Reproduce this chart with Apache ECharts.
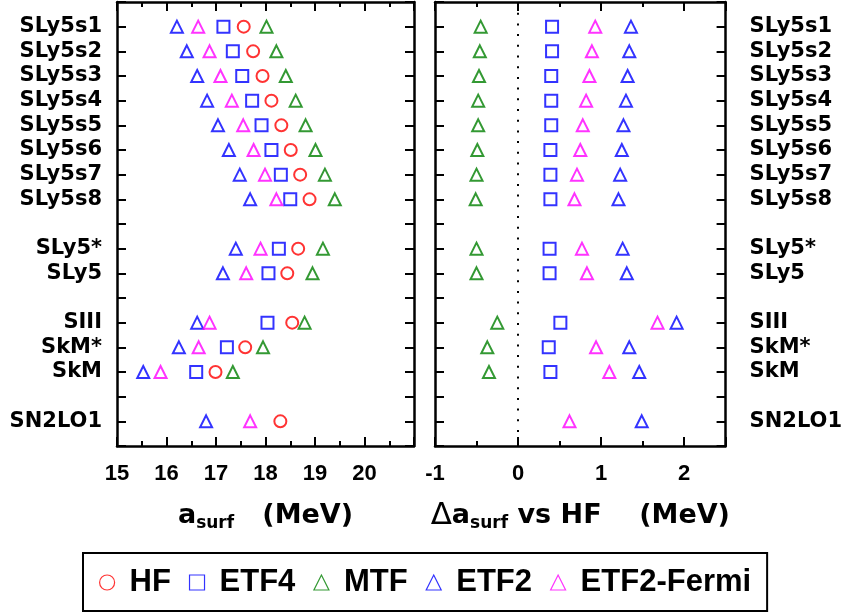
<!DOCTYPE html>
<html>
<head>
<meta charset="utf-8">
<script src="https://cdn.jsdelivr.net/npm/echarts@6/dist/echarts.min.js"></script>
<style>
  html, body { margin: 0; padding: 0; background: #fff; }
  #chart { width: 845px; height: 614px; }
</style>
</head>
<body>
<div id="chart"></div>
<script>
// rows (top to bottom), with empty slots between the groups
const rowNames = ['SLy5s1', 'SLy5s2', 'SLy5s3', 'SLy5s4', 'SLy5s5', 'SLy5s6', 'SLy5s7', 'SLy5s8',
  'SLy5*', 'SLy5', 'SIII', 'SkM*', 'SkM', 'SN2LO1']
const rowPos = [1, 2, 3, 4, 5, 6, 7, 8, 10, 11, 13, 14, 15, 17]

// left panel: a_surf (MeV)
const hf = [17.56, 17.75, 17.94, 18.12, 18.32, 18.51, 18.70, 18.89, 18.66, 18.44, 18.54, 17.59, 16.99, 18.30]
const etf4 = [17.15, 17.34, 17.53, 17.73, 17.92, 18.12, 18.31, 18.50, 18.27, 18.06, 18.04, 17.22, 16.60, null]
const mtf = [18.02, 18.22, 18.41, 18.61, 18.81, 19.01, 19.20, 19.40, 19.16, 18.95, 18.79, 17.95, 17.34, null]
const etf2 = [16.21, 16.41, 16.62, 16.82, 17.04, 17.26, 17.48, 17.69, 17.40, 17.14, 16.62, 16.25, 15.53, 16.80]
const etf2Fermi = [16.64, 16.87, 17.09, 17.32, 17.55, 17.76, 17.99, 18.22, 17.90, 17.61, 16.87, 16.65, 15.88, 17.69]

// right panel: delta a_surf vs HF (MeV)
const dEtf4 = [0.41, 0.41, 0.40, 0.40, 0.40, 0.39, 0.39, 0.39, 0.38, 0.38, 0.51, 0.37, 0.39, null]
const dMtf = [-0.45, -0.46, -0.47, -0.48, -0.48, -0.49, -0.50, -0.51, -0.50, -0.50, -0.25, -0.37, -0.35, null]
const dEtf2 = [1.36, 1.34, 1.32, 1.30, 1.27, 1.25, 1.23, 1.21, 1.26, 1.31, 1.91, 1.34, 1.46, 1.49]
const dEtf2Fermi = [0.93, 0.89, 0.86, 0.82, 0.78, 0.75, 0.71, 0.68, 0.77, 0.83, 1.68, 0.94, 1.10, 0.62]

const leftTicks = [15, 16, 17, 18, 19, 20]
const rightTicks = [-1, 0, 1, 2]

const colors = { HF: '#ff0000', ETF4: '#0000ff', MTF: '#008000', ETF2: '#0000ff', 'ETF2-Fermi': '#ff00ff' }
const symbols = { HF: 'circle', ETF4: 'rect', MTF: 'triangle', ETF2: 'triangle', 'ETF2-Fermi': 'triangle' }

const sansFont = '"Liberation Sans", Arial, sans-serif'
const wideFont = '"DejaVu Sans", sans-serif'

const chart = echarts.init(document.getElementById('chart'), null, { renderer: 'canvas' })

const axisLine = { show: true, onZero: false, lineStyle: { color: '#000', width: 2.5 } }
const tickLine = { color: '#000', width: 2 }

const toPoints = (values) =>
  values.map((v, i) => (v === null ? null : [v, rowPos[i]])).filter((p) => p !== null)

const nameRich = {
  d: { fontFamily: wideFont, fontSize: 31, fontWeight: 'normal', color: '#000', lineHeight: 32 },
  m: { fontFamily: wideFont, fontSize: 27, fontWeight: 'bold', color: '#000', lineHeight: 32 },
  s: { fontFamily: wideFont, fontSize: 17, fontWeight: 'bold', color: '#000', lineHeight: 17, verticalAlign: 'bottom' },
}

const xAxis = (grid, position, min, max, interval, extra) => Object.assign({
  type: 'value',
  gridIndex: grid,
  position,
  min,
  max,
  interval,
  axisLine,
  axisTick: { show: true, inside: true, length: 9, lineStyle: tickLine },
  axisLabel: { show: false },
  splitLine: { show: false },
}, extra)

const yAxis = (grid, position, showLabels, margin) => ({
  type: 'value',
  gridIndex: grid,
  position,
  min: 0,
  max: 18,
  interval: 1,
  inverse: true,
  axisLine,
  axisTick: { show: true, inside: true, length: 9, lineStyle: tickLine },
  axisLabel: {
    show: showLabels,
    margin,
    color: '#000',
    fontFamily: wideFont,
    fontWeight: 'bold',
    fontSize: 21,
    formatter: (v) => {
      const i = rowPos.indexOf(v)
      return i >= 0 ? rowNames[i] : ''
    },
  },
  splitLine: { show: false },
})

const minorTick = { show: true, splitNumber: 2, length: 5, lineStyle: tickLine }
const shortTicks = { axisLine: { show: false, onZero: false }, axisTick: { show: true, inside: true, length: 5, lineStyle: tickLine } }
const tickLabel = (list) => ({
  show: true,
  margin: 17,
  color: '#000',
  fontFamily: sansFont,
  fontWeight: 'bold',
  fontSize: 22,
  formatter: (v) => (list.includes(v) ? String(v) : ''),
})

const scatter = (name, values, xi, yi) => ({
  name,
  type: 'scatter',
  xAxisIndex: xi,
  yAxisIndex: yi,
  symbol: symbols[name],
  symbolSize: 12,
  itemStyle: { color: 'rgba(255,255,255,0)', borderColor: colors[name], borderWidth: 2 },
  emphasis: { disabled: true },
  data: toPoints(values),
})

const rightEtf4 = scatter('ETF4', dEtf4, 2, 2)
rightEtf4.markLine = {
  silent: true,
  symbol: 'none',
  label: { show: false },
  lineStyle: { color: '#000', width: 2, type: [2, 8.7] },
  data: [{ xAxis: 0 }],
}

const option = {
  animation: false,
  backgroundColor: '#fff',
  grid: [
    { left: 117, top: 2, width: 297, height: 444 },
    { left: 435, top: 2, width: 298, height: 444 },
  ],
  xAxis: [
    xAxis(0, 'bottom', 15, 21, 1, {
      minorTick,
      axisLabel: tickLabel(leftTicks),
      name: '{m|a}{s|surf}{m|   (MeV)}',
      nameLocation: 'middle',
      nameGap: 54,
      nameTextStyle: { rich: nameRich },
    }),
    xAxis(0, 'top', 15, 21, 1, { minorTick }),
    xAxis(1, 'bottom', -1, 2.5, 1, {
      axisLabel: tickLabel(rightTicks),
      name: '{d|Δ}{m|a}{s|surf}{m| vs HF    (MeV)}',
      nameLocation: 'middle',
      nameGap: 54,
      nameTextStyle: { rich: nameRich },
    }),
    xAxis(1, 'top', -1, 2.5, 1),
    // half-unit short ticks of the right panel
    xAxis(1, 'bottom', -1, 2.5, 0.5, shortTicks),
    xAxis(1, 'top', -1, 2.5, 0.5, shortTicks),
  ],
  yAxis: [
    yAxis(0, 'left', true, 15),
    yAxis(0, 'right', false, 15),
    yAxis(1, 'left', false, 15),
    yAxis(1, 'right', true, 24),
  ],
  legend: {
    data: ['HF', 'ETF4', 'MTF', 'ETF2', 'ETF2-Fermi'],
    left: 83,
    top: 553,
    orient: 'horizontal',
    selectedMode: false,
    itemWidth: 15,
    itemHeight: 15,
    itemGap: 18,
    padding: [14, 16, 13, 16],
    borderColor: '#000',
    borderWidth: 2,
    itemStyle: { borderWidth: 1.2 },
    textStyle: { color: '#000', fontFamily: sansFont, fontWeight: 'bold', fontSize: 31, padding: [0, 0, 0, 10] },
  },
  series: [
    scatter('HF', hf, 0, 0),
    scatter('ETF4', etf4, 0, 0),
    scatter('MTF', mtf, 0, 0),
    scatter('ETF2', etf2, 0, 0),
    scatter('ETF2-Fermi', etf2Fermi, 0, 0),
    rightEtf4,
    scatter('MTF', dMtf, 2, 2),
    scatter('ETF2', dEtf2, 2, 2),
    scatter('ETF2-Fermi', dEtf2Fermi, 2, 2),
  ],
}

chart.setOption(option)
</script>
</body>
</html>
